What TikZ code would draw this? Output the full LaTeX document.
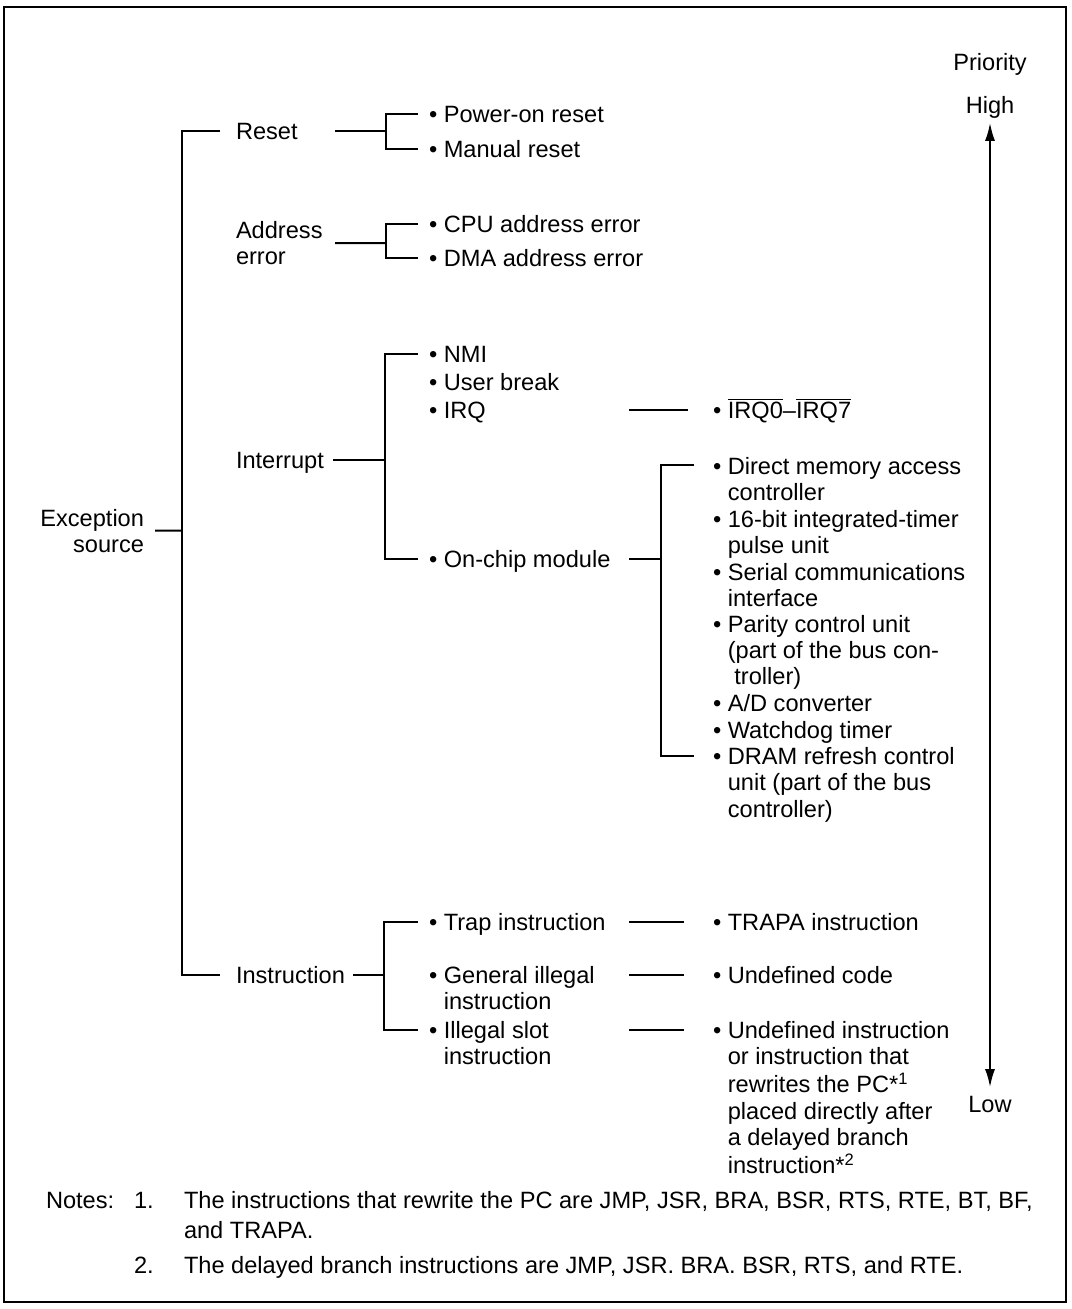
\documentclass[tikz,border=0pt]{standalone}
\usepackage{fontspec}
\setmainfont{Liberation Sans}
\usetikzlibrary{arrows,arrows.meta,positioning}

\tikzset{
  txt/.style={anchor=base west, inner sep=0pt, text height=8.9pt, text depth=0.4pt},
  two/.style={txt, text depth=13.6pt},
}

\begin{document}
\begin{tikzpicture}[x=0.5pt, y=-0.5pt, line width=1pt,
    >={Latex[length=9pt,width=5pt]},
    every node/.style={font=\fontsize{11.8}{13.2}\selectfont}]
    \useasboundingbox (0,0) rectangle (1071,1309);
    \draw (4,7) rectangle (1066,1302);

    % PRIORITY
    \node[txt, anchor=base] (PRIO) at (990,71) {Priority};
    \node[txt, anchor=base] (HIGH) at (990,114) {High};
    \node[txt, anchor=base] (LOW) at (990,1112) {Low};

    % ROOT
    \node[two, anchor=base east] (EXC) at (145,526)
    {
      \begin{tabular}[t]{@{}r@{}}
        Exception \\
        source
      \end{tabular}
    };

    % FIRST LAYER
    \node[txt] (RESET) at (235,140) {Reset};
    \node[two] (ADDR) at (235,238.5)
    {
      \begin{tabular}[t]{@{}l@{}}
        Address \\
        error
      \end{tabular}
    };
    \node[txt] (INT) at (235,468.5) {Interrupt};
    \node[txt] (INSTR) at (235,983.5) {Instruction};

    % SECOND LAYER
    \node[txt] (PWR) at (428,123) {• Power-on reset};
    \node[txt] (MAN) at (428,158) {• Manual reset};
    \node[txt] (CPU) at (428,233) {• CPU address error};
    \node[txt] (DMA) at (428,267) {• DMA address error};
    \node[txt] (NMI) at (428,363) {• NMI};
    \node[txt] (UBRK) at (428,391) {• User break};
    \node[txt] (IRQ) at (428,419) {• IRQ};
    \node[txt] (ONCHIP) at (428,567) {• On-chip module};
    \node[txt] (TRAP) at (428,930.5) {• Trap instruction};
    \node[txt] (GEN) at (428,983.5)
    {
      \begin{tabular}[t]{@{}l@{\ }l@{}}
        • & General illegal \\
          & instruction
      \end{tabular}
    };
    \node[txt] (SLOT) at (428,1038.5)
    {
      \begin{tabular}[t]{@{}l@{\ }l@{}}
        • & Illegal slot \\
          & instruction
      \end{tabular}
    };

    % THIRD LAYER
    \node[txt] (IRQX) at (712,419)
    {• $\overline{\mbox{IRQ0}}$–$\overline{\mbox{IRQ7}}$};
    \node[txt] (DMAC) at (712,474)
    {
      \begin{tabular}[t]{@{}l@{\ }l@{}}
        • & Direct memory access \\
          & controller
      \end{tabular}
    };
    \node[txt] (ITU) at (712,527)
    {
      \begin{tabular}[t]{@{}l@{\ }l@{}}
        • & 16-bit integrated-timer \\
          & pulse unit
      \end{tabular}
    };
    \node[txt] (SCI) at (712,580)
    {
      \begin{tabular}[t]{@{}l@{\ }l@{}}
        • & Serial communications \\
          & interface
      \end{tabular}
    };
    \node[txt] (PCU) at (712,632)
    {
      \begin{tabular}[t]{@{}l@{\ }l@{}}
        • & Parity control unit \\
          & (part of the bus con- \\
          & \ troller)
      \end{tabular}
    };
    \node[txt] (ADC) at (712,711.5) {• A/D converter};
    \node[txt] (WDT) at (712,738) {• Watchdog timer};
    \node[txt] (DRAM) at (712,764.5)
    {
      \begin{tabular}[t]{@{}l@{\ }l@{}}
        • & DRAM refresh control \\
          & unit (part of the bus \\
          & controller)
      \end{tabular}
    };
    \node[txt] (TRAPA) at (712,930.5) {• TRAPA instruction};
    \node[txt] (UNDEF) at (712,983.5) {• Undefined code};
    \node[txt] (UINS) at (712,1038.5)
    {
      \begin{tabular}[t]{@{}l@{\ }l@{}}
        • & Undefined instruction \\
          & or instruction that \\
          & rewrites the PC*\textsuperscript{1} \\
          & placed directly after \\
          & a delayed branch \\
          & instruction*\textsuperscript{2}
      \end{tabular}
    };

    % NOTES
    \node[txt] (NOTES) at (45,1208.5) {Notes:};
    \node[txt] (N1_NUM) at (133,1208.5) {1.};
    \node[txt] (N1) at (183,1208.5)
    {
      \begin{tabular}[t]{@{}l@{}}
        The instructions that rewrite the PC are JMP, JSR, BRA, BSR, RTS, RTE, BT, BF, \\[1.8pt]
        and TRAPA.
      \end{tabular}
    };
    \node[txt] (N2_NUM) at (133,1273.5) {2.};
    \node[txt] (N2) at (183,1273.5)
    {The delayed branch instructions are JMP, JSR. BRA. BSR, RTS, and RTE.};

    % JUNCTIONS
    \coordinate (J_MAIN) at (182,530.7);
    \coordinate (J_RESET) at (386,131.5);
    \coordinate (J_ADDR) at (386,243.2);
    \coordinate (J_INT) at (385,460);
    \coordinate (J_MOD) at (661,558.5);
    \coordinate (J_INS) at (384,975);
    \coordinate (COL_A) at (335,0);
    \coordinate (COL_B) at (629,0);

    % LINES
    \draw[<->, shorten <=3.5pt, shorten >=3pt] (HIGH.south) -- (LOW.north);
    \draw[shorten <=5pt] (EXC.east) -- (J_MAIN);
    \draw[shorten <=7.5pt, shorten >=7.5pt] (RESET.west) -| (J_MAIN) |- (INSTR.west);
    \draw (RESET.west -| COL_A) -- (J_RESET);
    \draw[shorten <=5pt, shorten >=5pt] (PWR.west) -| (J_RESET) |- (MAN.west);
    \draw (ADDR.east -| COL_A) -- (J_ADDR);
    \draw[shorten <=5pt, shorten >=5pt] (CPU.west) -| (J_ADDR) |- (DMA.west);
    \draw[shorten <=4pt] (INT.east) -- (J_INT);
    \draw[shorten <=5pt, shorten >=5pt] (NMI.west) -| (J_INT) |- (ONCHIP.west);
    \draw[shorten >=12pt] (IRQ.west -| COL_B) -- (IRQX.west);
    \draw (ONCHIP.west -| COL_B) -- (J_MOD);
    \draw[shorten <=9pt, shorten >=9pt] (DMAC.west) -| (J_MOD) |- (DRAM.west);
    \draw[shorten <=3.5pt] (INSTR.east) -- (J_INS);
    \draw[shorten <=5pt, shorten >=5pt] (TRAP.west) -| (J_INS) |- (SLOT.west);
    \draw[shorten >=14pt] (TRAP.west -| COL_B) -- (TRAPA.west);
    \draw[shorten >=14pt] (GEN.west -| COL_B) -- (UNDEF.west);
    \draw[shorten >=14pt] (SLOT.west -| COL_B) -- (UINS.west);
  \end{tikzpicture}
\end{document}
